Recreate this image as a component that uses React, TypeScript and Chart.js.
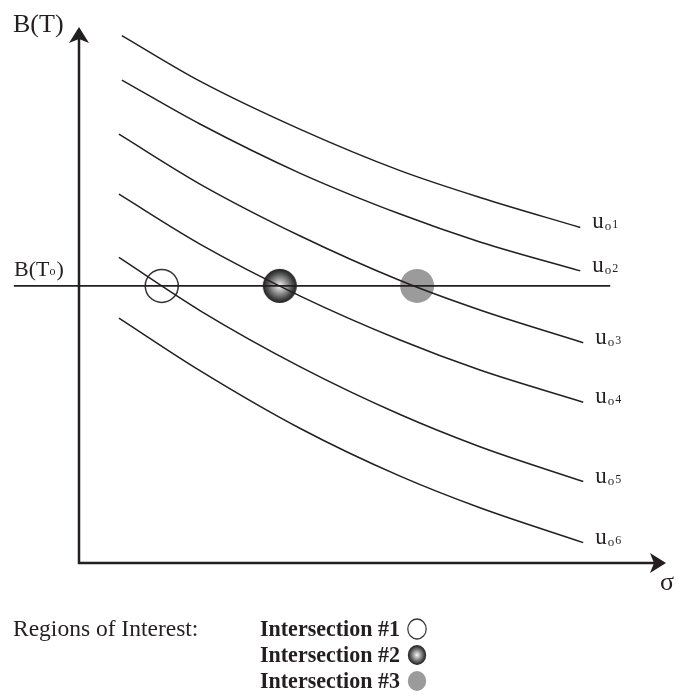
import React, { useEffect, useRef } from "react";
import { Chart, registerables } from "chart.js";

Chart.register(...registerables);

// ---- data (σ along x, B(T) along y, arbitrary units 0..10) ----
const sigmaUpper = [0.73, 2.06, 3.77, 5.47, 6.83, 8.54];
const sigmaLower = [0.68, 2.06, 3.77, 5.47, 6.83, 8.59];
const curveU1 = [9.84, 8.99, 8.09, 7.32, 6.82, 6.26];
const curveU2 = [9.01, 8.19, 7.27, 6.51, 5.99, 5.45];
const curveU3 = [8.0, 7.07, 6.1, 5.27, 4.72, 4.11];
const curveU4 = [6.88, 5.95, 4.98, 4.16, 3.6, 3.0];
const curveU5 = [5.7, 4.71, 3.66, 2.77, 2.17, 1.52];
const curveU6 = [4.57, 3.59, 2.51, 1.62, 1.03, 0.38];
const curveIndex = ["1", "2", "3", "4", "5", "6"];

const refLevel = 5.17; // B(To)
const refSigma = [-1.11, 9.05];
const intersectionSigma = [1.41, 3.42, 5.76];

const axisMin = 0;
const axisMax = 10;

const legendTitle = "Regions of Interest:";
const legendItems = ["Intersection #1", "Intersection #2", "Intersection #3"];

const INK = "#231f20";
const GRAY = "#9b9b9b";

function ballGradient(ctx: CanvasRenderingContext2D, cx: number, cy: number, r: number) {
  const g = ctx.createRadialGradient(cx, cy, 0, cx, cy, r);
  g.addColorStop(0, "#f8f8f8");
  g.addColorStop(0.4, "#9c9c9c");
  g.addColorStop(0.78, "#474747");
  g.addColorStop(1, "#1e1e1e");
  return g;
}

function makeBall(r: number): HTMLCanvasElement {
  const c = document.createElement("canvas");
  const s = Math.ceil(2 * r + 2);
  c.width = s;
  c.height = s;
  const ctx = c.getContext("2d")!;
  const cx = s / 2;
  ctx.beginPath();
  ctx.arc(cx, cx, r, 0, Math.PI * 2);
  ctx.fillStyle = ballGradient(ctx, cx, cx, r);
  ctx.fill();
  return c;
}

function arrowHead(ctx: CanvasRenderingContext2D, tx: number, ty: number, dir: "up" | "right") {
  const L = 16, W = 10, N = 12;
  ctx.beginPath();
  if (dir === "up") {
    ctx.moveTo(tx, ty);
    ctx.lineTo(tx + W, ty + L);
    ctx.lineTo(tx, ty + N);
    ctx.lineTo(tx - W, ty + L);
  } else {
    ctx.moveTo(tx, ty);
    ctx.lineTo(tx - L, ty - W);
    ctx.lineTo(tx - N, ty);
    ctx.lineTo(tx - L, ty + W);
  }
  ctx.closePath();
  ctx.fillStyle = INK;
  ctx.fill();
}

const overlay = {
  id: "overlay",
  beforeDatasetsDraw(chart: any) {
    const ctx: CanvasRenderingContext2D = chart.ctx;
    const xs = chart.scales.x;
    const ys = chart.scales.y;
    const ox = xs.getPixelForValue(axisMin);
    const oy = ys.getPixelForValue(axisMin);
    const xe = xs.getPixelForValue(axisMax);
    const ye = ys.getPixelForValue(axisMax);
    ctx.save();
    ctx.strokeStyle = INK;
    ctx.lineWidth = 2.5;
    ctx.lineJoin = "miter";
    ctx.beginPath();
    ctx.moveTo(ox, ye + 12);
    ctx.lineTo(ox, oy);
    ctx.lineTo(xe - 12, oy);
    ctx.stroke();
    arrowHead(ctx, ox, ye, "up");
    arrowHead(ctx, xe, oy, "right");

    // axis titles
    ctx.fillStyle = INK;
    ctx.textBaseline = "alphabetic";
    ctx.font = '26px "Liberation Serif"';
    ctx.fillText("B(T)", 13, ye + 5);
    ctx.fillText("σ", xe - 6, oy + 27);

    // B(To) label
    const ry = ys.getPixelForValue(refLevel);
    ctx.font = '22px "Liberation Serif"';
    let x = 14;
    ctx.fillText("B(T", x, ry - 10);
    x += ctx.measureText("B(T").width;
    ctx.font = '12px "Liberation Serif"';
    ctx.fillText("o", x, ry - 11);
    x += ctx.measureText("o").width + 1;
    ctx.font = '22px "Liberation Serif"';
    ctx.fillText(")", x, ry - 10);
    ctx.restore();
  },
  afterDatasetsDraw(chart: any) {
    const ctx: CanvasRenderingContext2D = chart.ctx;
    ctx.save();
    ctx.fillStyle = INK;
    ctx.textBaseline = "alphabetic";
    // curve labels u_o n
    curveIndex.forEach((n, i) => {
      const meta = chart.getDatasetMeta(i);
      const pts = meta.data;
      const last = pts[pts.length - 1];
      let x = last.x + 12;
      const y = last.y + 1;
      ctx.font = '23px "Liberation Serif"';
      ctx.fillText("u", x, y);
      x += ctx.measureText("u").width + 1;
      ctx.font = '13px "Liberation Serif"';
      ctx.fillText("o", x, y + 2);
      x += ctx.measureText("o").width + 1;
      ctx.font = '12px "Liberation Serif"';
      ctx.fillText(n, x, y);
    });

    // legend
    ctx.font = '23.5px "Liberation Serif"';
    ctx.fillText(legendTitle, 13, 636);
    ctx.font = 'bold 22px "Liberation Serif"';
    legendItems.forEach((t, i) => {
      const by = 636 + i * 26;
      ctx.fillStyle = INK;
      ctx.save();
      ctx.translate(260, by);
      ctx.scale(1, 1.08);
      ctx.fillText(t, 0, 0);
      ctx.restore();
      const cx = 417;
      const cy = by - 7;
      ctx.save();
      ctx.translate(cx, cy);
      ctx.scale(0.92, 1);
      ctx.beginPath();
      ctx.arc(0, 0, 10, 0, Math.PI * 2);
      if (i === 0) {
        ctx.fillStyle = "#ffffff";
        ctx.fill();
        ctx.lineWidth = 1.3;
        ctx.strokeStyle = "#333333";
        ctx.stroke();
      } else if (i === 1) {
        ctx.fillStyle = ballGradient(ctx, 0, 0, 10);
        ctx.fill();
      } else {
        ctx.fillStyle = GRAY;
        ctx.fill();
      }
      ctx.restore();
    });
    ctx.restore();
  },
};

export default function App() {
  const ref = useRef<HTMLCanvasElement>(null);
  useEffect(() => {
    if (!ref.current) return;
    const curves = [curveU1, curveU2, curveU3, curveU4, curveU5, curveU6];
    const curveSets = curves.map((vals, i) => {
      const sig = i < 2 ? sigmaUpper : sigmaLower;
      return {
        label: "u_o" + curveIndex[i],
        data: vals.map((v, k) => ({ x: sig[k], y: v })),
        showLine: true,
        borderColor: INK,
        borderWidth: 1.5,
        pointRadius: 0,
        cubicInterpolationMode: "monotone" as const,
        clip: false as const,
        order: 1,
      };
    });
    const refSet = {
      label: "B(To)",
      data: refSigma.map((s) => ({ x: s, y: refLevel })),
      showLine: true,
      borderColor: INK,
      borderWidth: 1.7,
      pointRadius: 0,
      clip: false as const,
      order: 1,
    };
    const ball = makeBall(17);
    const interSets = [
      {
        label: legendItems[0],
        data: [{ x: intersectionSigma[0], y: refLevel }],
        pointStyle: "circle" as const,
        pointRadius: 16.5,
        pointBackgroundColor: "rgba(255,255,255,0)",
        pointBorderColor: "#333333",
        pointBorderWidth: 1.5,
        clip: false as const,
        order: 5,
      },
      {
        label: legendItems[1],
        data: [{ x: intersectionSigma[1], y: refLevel }],
        pointStyle: ball as any,
        pointRadius: 17,
        clip: false as const,
        order: 5,
      },
      {
        label: legendItems[2],
        data: [{ x: intersectionSigma[2], y: refLevel }],
        pointStyle: "circle" as const,
        pointRadius: 17,
        pointBackgroundColor: GRAY,
        pointBorderWidth: 0,
        pointBorderColor: GRAY,
        clip: false as const,
        order: 5,
      },
    ];
    const chart = new Chart(ref.current, {
      type: "scatter",
      data: { datasets: [...curveSets, refSet, ...interSets] as any },
      options: {
        responsive: false,
        animation: false,
        devicePixelRatio: 1,
        layout: { autoPadding: false, padding: { left: 79, right: 12, top: 27, bottom: 133 } },
        scales: {
          x: { type: "linear", min: axisMin, max: axisMax, display: false },
          y: { type: "linear", min: axisMin, max: axisMax, display: false },
        },
        plugins: { legend: { display: false }, tooltip: { enabled: false } },
        events: [],
      },
      plugins: [overlay],
    });
    return () => chart.destroy();
  }, []);
  return (
    <div style={{ position: "absolute", left: 0, top: 0, width: 678, height: 696, background: "#fff" }}>
      <canvas ref={ref} width={678} height={696} />
    </div>
  );
}
